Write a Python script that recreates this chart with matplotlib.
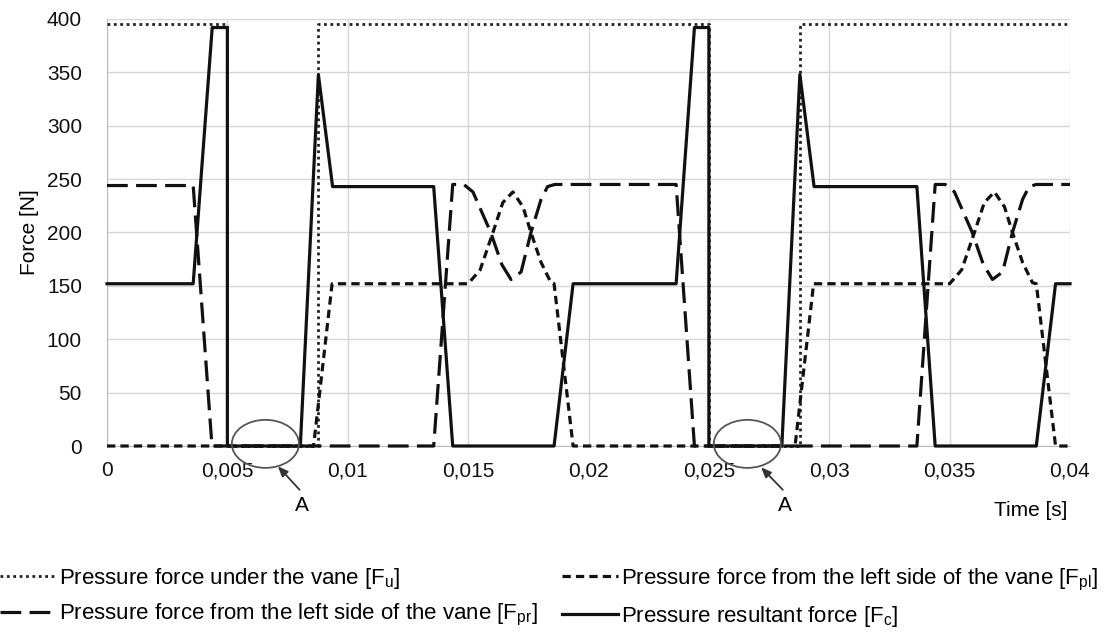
import matplotlib
matplotlib.use("Agg")
import matplotlib.pyplot as plt
import numpy as np
from matplotlib.lines import Line2D
from matplotlib.patches import Ellipse
from matplotlib.ticker import FuncFormatter, MultipleLocator

plt.rcParams["font.family"] = ["Liberation Sans", "DejaVu Sans"]
plt.rcParams["mathtext.fontset"] = "custom"
plt.rcParams["mathtext.rm"] = "Liberation Sans"
plt.rcParams["mathtext.it"] = "Liberation Sans:italic"

# %%
# Data (time in ms, force in N)

# pressure force under the vane, F_u
t_u = [0.0, 5.0, 5.0, 8.78, 8.78, 25.0, 25.0, 28.78, 28.78, 40.0]
f_u = [395, 395, 0, 0, 395, 395, 0, 0, 395, 395]

# pressure force from the left side, F_pl (short dashes)
t_pl = [0.0, 8.58, 9.35, 15.0, 15.5, 16.03, 16.44, 16.86, 17.28, 17.61,
        18.03, 18.44, 18.57, 19.36, 28.58, 29.35, 35.0, 35.5, 36.03, 36.44,
        36.86, 37.28, 37.61, 38.03, 38.44, 38.6, 39.4, 40.0]
f_pl = [0, 0, 152, 152, 165, 200, 228, 238, 224, 200,
        172, 153, 152, 0, 0, 152, 152, 165, 200, 228,
        238, 224, 200, 172, 153, 152, 0, 0]

# pressure force from the left side, F_pr (long dashes)
t_pr = [0.0, 3.58, 4.36, 13.57, 14.36, 14.82, 15.2, 15.94, 16.4, 16.78,
        17.2, 17.61, 18.03, 18.3, 18.6, 23.64, 24.4, 33.64, 34.4, 34.82,
        35.2, 35.94, 36.4, 36.78, 37.2, 37.61, 38.03, 38.3, 38.6, 40.0]
f_pr = [244, 244, 0, 0, 245, 245, 238, 200, 170, 156,
        163, 200, 231, 243, 245, 245, 0, 0, 245, 245,
        238, 200, 170, 156, 163, 200, 231, 243, 245, 245]

# pressure resultant force, F_c
t_c = [0.0, 3.58, 4.37, 5.0, 5.0, 8.03, 8.78, 9.37, 13.57, 14.36,
       18.57, 19.36, 23.64, 24.4, 25.0, 25.0, 28.03, 28.78, 29.37, 33.64,
       34.4, 38.6, 39.4, 40.0]
f_c = [152, 152, 392, 392, 0, 0, 348, 243, 243, 0,
       0, 152, 152, 392, 392, 0, 0, 348, 243, 243,
       0, 0, 152, 152]

labels = [
    r"Pressure force under the vane [$\mathrm{F_u}$]",
    r"Pressure force from the left side of the vane [$\mathrm{F_{pr}}$]",
    r"Pressure force from the left side of the vane [$\mathrm{F_{pl}}$]",
    r"Pressure resultant force [$\mathrm{F_c}$]",
]

# %%
fig = plt.figure(figsize=(11.18, 6.34), dpi=100)
ax = fig.add_axes([107 / 1118, 1 - 446 / 634, (1070 - 107) / 1118, (446 - 19) / 634])

ms = 1e-3
lw = 2.3
fs = 15
sty_u = dict(color="#222222", lw=2.0, ls=(0, (1, 1.3)))
sty_pl = dict(color="#111111", lw=lw, ls=(0, (2.6, 1.6)))
sty_pr = dict(color="#111111", lw=lw, ls=(0, (6.5, 2.6)))
sty_c = dict(color="#111111", lw=lw, ls="-")

ax.plot(np.array(t_u) * ms, f_u, clip_on=False, zorder=3, **sty_u)
ax.plot(np.array(t_pl) * ms, f_pl, clip_on=False, zorder=3, **sty_pl)
ax.plot(np.array(t_pr) * ms, f_pr, clip_on=False, zorder=3, **sty_pr)
ax.plot(np.array(t_c) * ms, f_c, clip_on=False, zorder=4, **sty_c)

ax.set_xlim(0, 0.04)
ax.set_ylim(0, 400)
ax.xaxis.set_major_locator(MultipleLocator(0.005))
ax.yaxis.set_major_locator(MultipleLocator(50))
ax.xaxis.set_major_formatter(FuncFormatter(lambda v, p: f"{v:g}".replace(".", ",")))
ax.grid(True, color="#d6d6d6", lw=1.0)
ax.set_axisbelow(True)
for side in ["top", "right"]:
    ax.spines[side].set_visible(False)
ax.spines["left"].set_color("#bdbdbd")
ax.spines["bottom"].set_color("#bdbdbd")
ax.tick_params(length=0, labelsize=fs, colors="#111111")
ax.tick_params(axis="x", pad=11)
ax.tick_params(axis="y", pad=18)
ax.set_ylabel("Force [N]", fontsize=fs, labelpad=6)
fig.text(1067 / 1118, 1 - 511 / 634, "Time [s]", ha="right", va="center", fontsize=fs)

# marked regions "A"
for cx, tip, tail, lab in [(6.58, (7.1, -19), (8.0, -41), (8.1, -47)),
                           (26.6, (27.17, -20), (28.07, -41), (28.17, -47))]:
    ax.add_patch(Ellipse((cx * ms, 2), 2.79 * ms, 45, fill=False, ec="#555555",
                         lw=1.3, clip_on=False, zorder=5))
    ax.annotate("", xy=(tip[0] * ms, tip[1]), xytext=(tail[0] * ms, tail[1]),
                annotation_clip=False,
                arrowprops=dict(arrowstyle="-|>,head_length=0.6,head_width=0.25",
                                color="#333333", lw=1.3, shrinkA=0, shrinkB=0))
    ax.text(lab[0] * ms, lab[1], "A", ha="center", va="top", fontsize=fs,
            clip_on=False)

handles = [Line2D([], [], **sty_u), Line2D([], [], **sty_pr),
           Line2D([], [], **sty_pl), Line2D([], [], **sty_c)]
fig.legend(handles, labels, ncol=2, loc="upper left", bbox_to_anchor=(0.0, 1 - 566 / 634),
           frameon=False, fontsize=16, handlelength=2.5, handletextpad=0.15,
           columnspacing=1.1, labelspacing=0.5, borderpad=0, borderaxespad=0)

fig.savefig("out.png", dpi=100)
